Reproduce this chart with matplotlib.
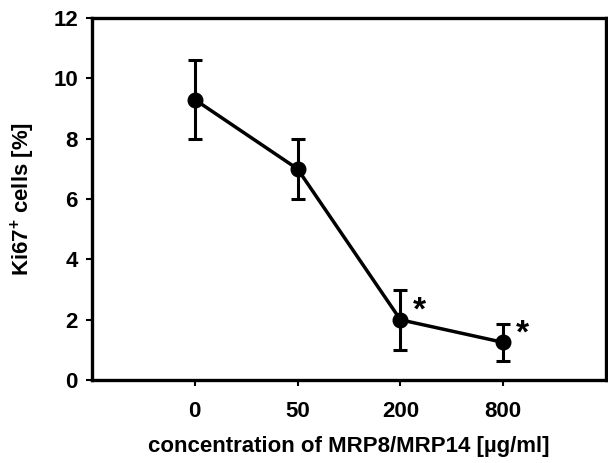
import matplotlib.pyplot as plt

plt.rcParams['font.family'] = ['Liberation Sans', 'DejaVu Sans']
plt.rcParams['font.weight'] = 'bold'
plt.rcParams['mathtext.fontset'] = 'custom'
plt.rcParams['mathtext.bf'] = 'Liberation Sans:bold'
plt.rcParams['mathtext.rm'] = 'Liberation Sans:bold'

conc = ["0", "50", "200", "800"]
ki67 = [9.3, 7.0, 2.0, 1.25]
err_low = [1.3, 1.0, 1.0, 0.6]
err_high = [1.3, 1.0, 1.0, 0.62]
signif = [False, False, True, True]

fig = plt.figure(figsize=(6.08, 4.63), dpi=100)
ax = fig.add_axes([0.151, 0.179, 0.846, 0.782])

xpos = list(range(1, len(conc) + 1))
ax.errorbar(xpos, ki67, yerr=[err_low, err_high], color="black", lw=2.5,
            marker="o", markersize=10.5, capsize=5, capthick=2.2, elinewidth=2.2)

for x, y, s in zip(xpos, ki67, signif):
    if s:
        ax.annotate("*", (x, y), xytext=(14, 6), textcoords="offset points",
                    fontsize=24, fontweight="bold", ha="center", va="center")

ax.set_xlim(0, 5)
ax.set_ylim(0, 12)
ax.set_xticks(xpos)
ax.set_xticklabels(conc)
ax.set_yticks(range(0, 13, 2))
ax.tick_params(axis="both", labelsize=16, width=1.5, length=4, direction="out")
ax.tick_params(axis="x", pad=11)
ax.tick_params(axis="y", pad=6)
for sp in ax.spines.values():
    sp.set_linewidth(2.4)

ax.set_xlabel("concentration of MRP8/MRP14 [µg/ml]", fontsize=16, fontweight="bold", labelpad=10)
ax.set_ylabel("Ki67$^{\\mathbf{+}}$ cells [%]", fontsize=16, fontweight="bold", labelpad=12)

fig.savefig("out.png", dpi=100)
